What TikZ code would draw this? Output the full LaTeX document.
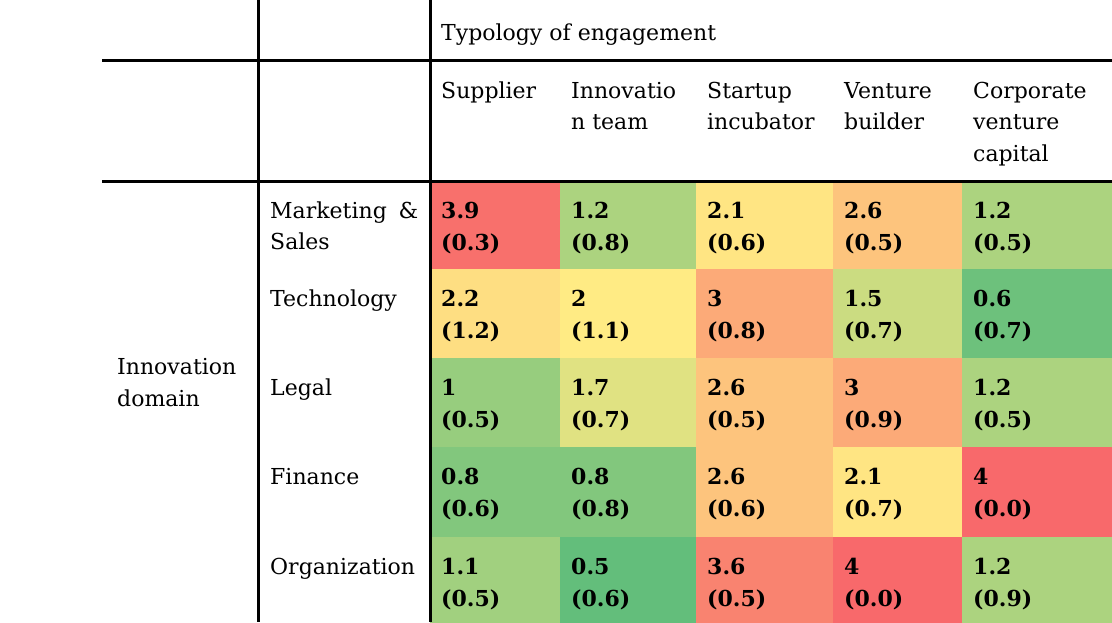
\documentclass[tikz,border=0pt]{standalone}
\usepackage{fontspec}
\usepackage{tikz}
\setmainfont{DejaVu Serif}
\definecolor{v05}{RGB}{99,190,123}
\definecolor{v06}{RGB}{109,193,124}
\definecolor{v08}{RGB}{130,199,125}
\definecolor{v10}{RGB}{151,205,126}
\definecolor{v11}{RGB}{161,208,127}
\definecolor{v12}{RGB}{172,211,127}
\definecolor{v15}{RGB}{203,220,129}
\definecolor{v17}{RGB}{224,226,130}
\definecolor{v20}{RGB}{255,235,132}
\definecolor{v21}{RGB}{255,229,131}
\definecolor{v22}{RGB}{254,222,130}
\definecolor{v26}{RGB}{253,196,125}
\definecolor{v30}{RGB}{252,170,120}
\definecolor{v36}{RGB}{249,131,112}
\definecolor{v39}{RGB}{248,112,108}
\definecolor{v40}{RGB}{248,105,107}
\tikzset{
  rule/.style={line width=3pt},
  txt/.style={anchor=base west,inner sep=0pt,align=left,
    font=\fontsize{22}{31.5}\selectfont},
  val/.style={txt,font=\fontsize{22}{32}\selectfont\bfseries}
}
% name, left x, right x, top y, colour, mean, sd
% (base anchor sits on the last line)
\def\drawCell#1#2#3#4#5#6#7{
\fill[#5] (#2,#4) rectangle (#3,#4+90);
\node[val] (#1) at (#2+11,#4+69) {#6\\(#7)};
}
\begin{document}
\begin{tikzpicture}[x=1pt,y=-1pt]
	\useasboundingbox (0,0) rectangle (1112,622);
	% Marketing & Sales
	\drawCell{ms1}{430}{560}{181}{v39}{3.9}{0.3}
	\drawCell{ms2}{560}{696}{181}{v12}{1.2}{0.8}
	\drawCell{ms3}{696}{833}{181}{v21}{2.1}{0.6}
	\drawCell{ms4}{833}{962}{181}{v26}{2.6}{0.5}
	\drawCell{ms5}{962}{1112}{181}{v12}{1.2}{0.5}
	% Technology
	\drawCell{te1}{430}{560}{269}{v22}{2.2}{1.2}
	\drawCell{te2}{560}{696}{269}{v20}{2}{1.1}
	\drawCell{te3}{696}{833}{269}{v30}{3}{0.8}
	\drawCell{te4}{833}{962}{269}{v15}{1.5}{0.7}
	\drawCell{te5}{962}{1112}{269}{v06}{0.6}{0.7}
	% Legal
	\drawCell{le1}{430}{560}{358}{v10}{1}{0.5}
	\drawCell{le2}{560}{696}{358}{v17}{1.7}{0.7}
	\drawCell{le3}{696}{833}{358}{v26}{2.6}{0.5}
	\drawCell{le4}{833}{962}{358}{v30}{3}{0.9}
	\drawCell{le5}{962}{1112}{358}{v12}{1.2}{0.5}
	% Finance
	\drawCell{fi1}{430}{560}{447}{v08}{0.8}{0.6}
	\drawCell{fi2}{560}{696}{447}{v08}{0.8}{0.8}
	\drawCell{fi3}{696}{833}{447}{v26}{2.6}{0.6}
	\drawCell{fi4}{833}{962}{447}{v21}{2.1}{0.7}
	\drawCell{fi5}{962}{1112}{447}{v40}{4}{0.0}
	% Organization
	\drawCell{or1}{430}{560}{537}{v11}{1.1}{0.5}
	\drawCell{or2}{560}{696}{537}{v05}{0.5}{0.6}
	\drawCell{or3}{696}{833}{537}{v36}{3.6}{0.5}
	\drawCell{or4}{833}{962}{537}{v40}{4}{0.0}
	\drawCell{or5}{962}{1112}{537}{v12}{1.2}{0.9}
	% rules
	\draw[rule] (102,60) -- (1112,60);
	\draw[rule] (102,181) -- (1112,181);
	\draw[rule] (258,0) -- (258,622);
	\draw[rule] (430,0) -- (430,622);
	% headings
	\node[txt] (typology) at (441,40) {Typology of engagement};
	\node[txt] (supplier) at (441,98) {Supplier};
	\node[txt] (team) at (571,129.5) {Innovatio\\n team};
	\node[txt] (incubator) at (707,129.5) {Startup\\incubator};
	\node[txt] (builder) at (844,129.5) {Venture\\builder};
	\node[txt] (cvc) at (973,161) {Corporate\\venture\\capital};
	\node[txt] (domain) at (117,406) {Innovation\\domain};
	\node[txt] (marketing) at (270,249.5) {\makebox[148pt][s]{Marketing \&}\\Sales};
	\node[txt] (technology) at (270,306) {Technology};
	\node[txt] (legal) at (270,395) {Legal};
	\node[txt] (finance) at (270,484) {Finance};
	\node[txt] (organization) at (270,574) {Organization};
\end{tikzpicture}
\end{document}
